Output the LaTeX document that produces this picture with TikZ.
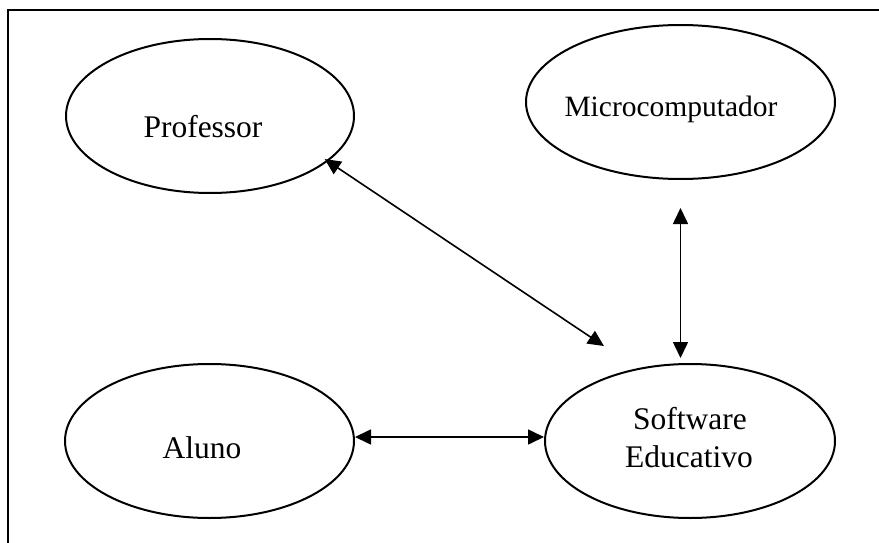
\documentclass[tikz,border=0pt]{standalone}
\usepackage{fontspec}
\setmainfont{Liberation Serif}
\usetikzlibrary{shapes.geometric,arrows.meta}
\tikzset{
  entity/.style={ellipse, draw, line width=2pt, inner sep=0pt},
  label text/.style={anchor=base, inner sep=0pt, font=\fontsize{31.5}{38}\selectfont},
  link/.style={line width=1.6pt, {Triangle[length=16pt,width=15pt]}-{Triangle[length=16pt,width=15pt]}},
  frame/.style={line width=2pt}
}
\begin{document}
\begin{tikzpicture}[x=1pt,y=-1pt]
  \useasboundingbox (0,0) rectangle (879,543);
  % open frame: top and left edges
  \coordinate (fTR) at (879,10);
  \coordinate (fTL) at (8,10);
  \coordinate (fBL) at (8,543);
  \draw[frame] (fTR) -- (fTL) -- (fBL);

  % entities
  \node[entity, minimum width=288pt, minimum height=154pt] (prof)  at (210,116) {};
  \node[entity, minimum width=309pt, minimum height=154pt] (micro) at (680.5,102) {};
  \node[entity, minimum width=289pt, minimum height=154pt] (aluno) at (209.5,441) {};
  \node[entity, minimum width=290pt, minimum height=154pt] (soft)  at (690,441) {};

  % captions
  \node[label text] (profT)  at (203,138) {Professor};
  \node[label text, font=\fontsize{29.5}{36}\selectfont] (microT) at (671,117) {Microcomputador};
  \node[label text] (alunoT) at (202,458) {Aluno};
  \node[label text] (softT1) at (690,429) {Software};
  \node[label text] (softT2) at (689,467) {Educativo};

  % relations
  \draw[link, shorten <=-4pt, shorten >=40pt] (prof.-21.8) -- (soft.126.7);
  \draw[link, shorten <=28pt, shorten >=5pt] (micro.south) -- (micro.south |- soft.north);
  \draw[link] ([yshift=4pt]aluno.east) -- ([yshift=4pt]soft.west);
\end{tikzpicture}
\end{document}
